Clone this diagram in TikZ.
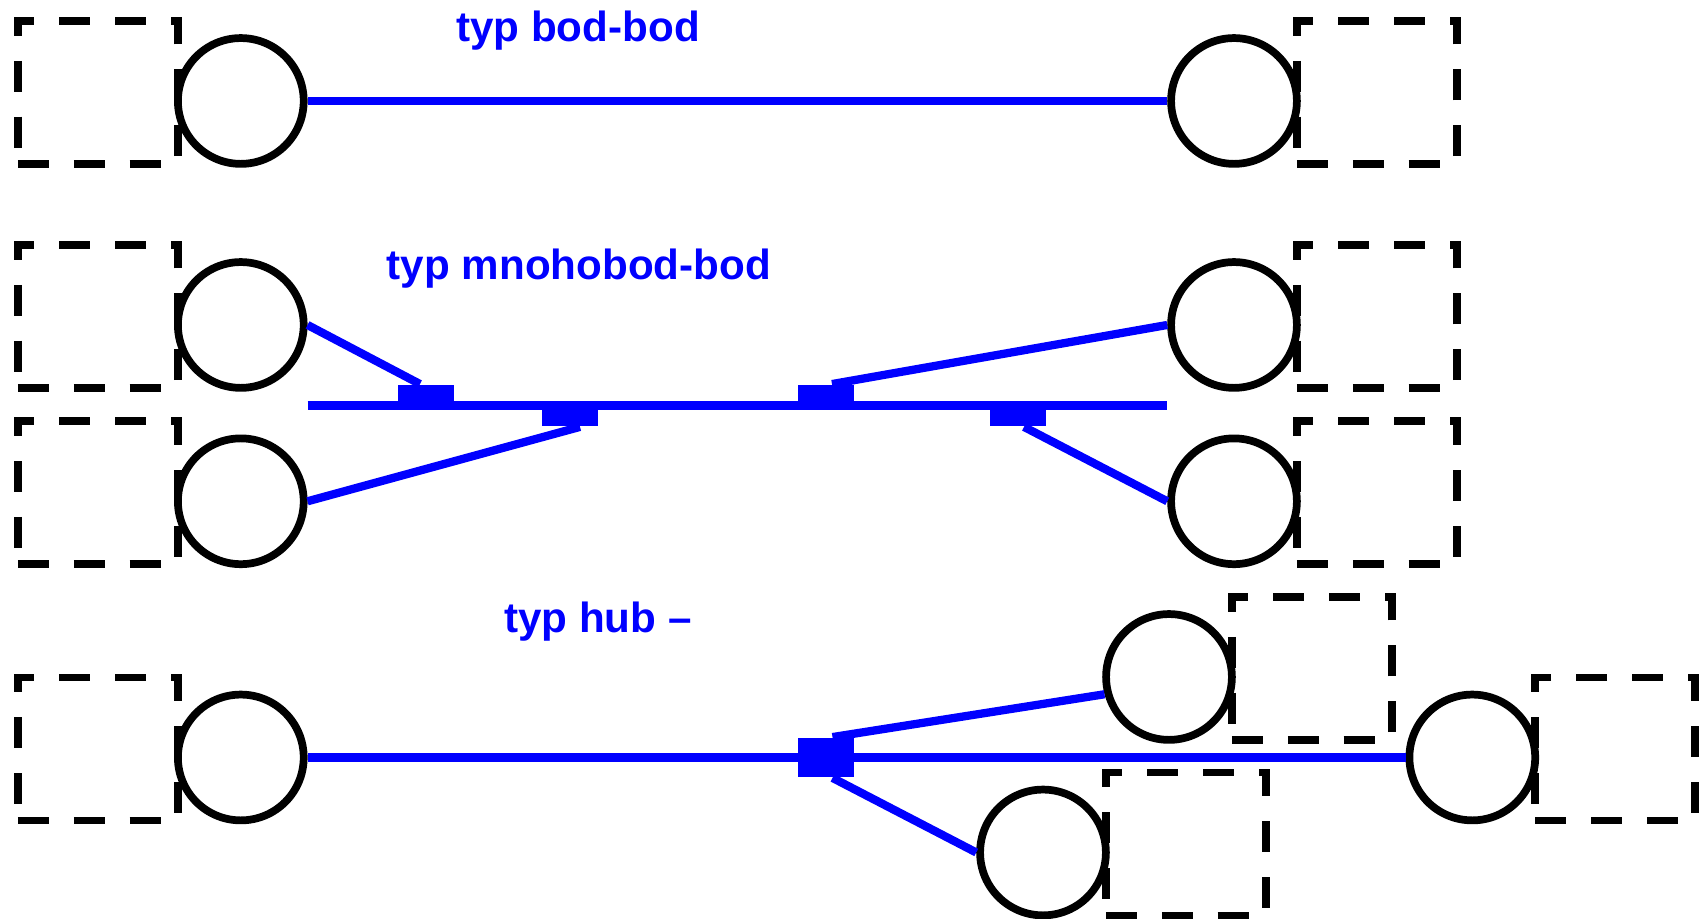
\documentclass[tikz,border=0pt]{standalone}
\usepackage{fontspec}
\setmainfont{Liberation Sans}
\usetikzlibrary{positioning}

\begin{document}
\begin{tikzpicture}[
    bod/.style={circle, draw, line width=2.2pt, minimum size=1.258cm, inner sep=0pt},
    slot/.style={rectangle, draw, line width=2.2pt, dash pattern=on 8.8pt off 7.1pt,
                 minimum width=1.6cm, minimum height=1.43cm, inner sep=0pt, outer sep=0pt},
    slotL/.style={slot, anchor=south east, xshift=-6.29mm, yshift=-6.29mm},
    slotR/.style={slot, anchor=south west, xshift=6.29mm, yshift=-6.29mm},
    wire/.style={draw=blue, line width=2.35pt},
    tap/.style={rectangle, fill=blue, minimum width=0.56cm, minimum height=0.2cm, inner sep=0pt},
    hub/.style={rectangle, fill=blue, minimum width=0.56cm, minimum height=0.394cm, inner sep=0pt},
    heading/.style={text=blue, font=\bfseries\fontsize{12}{14}\selectfont, inner sep=0pt, anchor=base}
]
    \useasboundingbox (0, 0) rectangle (16.99, 9.19);

    % Point to point (top)
    \node at (5.78, 8.773) [heading] (t1) {typ bod-bod};
    \node at (2.408, 8.18) [bod] (a1) {};
    \node at (12.34, 8.18) [bod] (b1) {};
    \node at (a1) [slotL] (sa1) {};
    \node at (b1) [slotR] (sb1) {};
    \draw[wire] (a1) -- (b1);

    % Multipoint bus (middle)
    \node at (5.79, 6.39) [heading] (t2) {typ mnohobod-bod};
    \node at (2.408, 5.94) [bod] (a2) {};
    \node at (2.408, 4.177) [bod] (a3) {};
    \node at (12.34, 5.94) [bod] (b2) {};
    \node at (12.34, 4.177) [bod] (b3) {};
    \node at (a2) [slotL] (sa2) {};
    \node at (a3) [slotL] (sa3) {};
    \node at (b2) [slotR] (sb2) {};
    \node at (b3) [slotR] (sb3) {};
    \coordinate (bus) at (0, 5.135);
    \draw[wire] (a2.east |- bus) -- (b2.west |- bus);
    \node at (4.26, 5.135) [tap, anchor=south] (k1) {};
    \node at (5.70, 5.135) [tap, anchor=north] (k2) {};
    \node at (8.26, 5.135) [tap, anchor=south] (k3) {};
    \node at (10.18, 5.135) [tap, anchor=north] (k4) {};
    \draw[wire] (a2.east) -- ([xshift=-0.6mm]k1.north);
    \draw[wire] (a3.east) -- ([xshift=1mm]k2.south);
    \draw[wire] ([xshift=0.6mm]k3.north) -- (b2.west);
    \draw[wire] ([xshift=0.6mm]k4.south) -- (b3.west);

    % Hub (bottom)
    \node at (5.98, 2.867) [heading] (t3) {typ hub –};
    \node at (2.408, 1.615) [bod] (a4) {};
    \node at (14.723, 1.615) [bod] (b4) {};
    \node at (11.69, 2.42) [bod] (c4) {};
    \node at (10.43, 0.665) [bod] (d4) {};
    \node at (a4) [slotL] (sa4) {};
    \node at (b4) [slotR] (sb4) {};
    \node at (c4) [slotR] (sc4) {};
    \node at (d4) [slotR] (sd4) {};
    \node at (8.26, 1.615) [hub] (h) {};
    \draw[wire] (a4) -- (b4);
    \draw[wire] ([xshift=0.65mm]h.north) -- (c4.195);
    \draw[wire] ([xshift=0.65mm]h.south) -- (d4.west);
\end{tikzpicture}
\end{document}
